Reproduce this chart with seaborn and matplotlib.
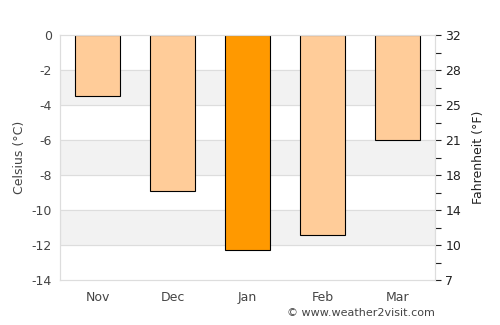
import matplotlib
matplotlib.use("Agg")
import matplotlib.pyplot as plt
import seaborn as sns

months = ["Nov", "Dec", "Jan", "Feb", "Mar"]
celsius = [-3.5, -8.9, -12.3, -11.4, -6.0]
bar_colors = ["#FFCC99", "#FFCC99", "#FF9900", "#FFCC99", "#FFCC99"]
c_ticks = [0, -2, -4, -6, -8, -10, -12, -14]

sns.set_style("white")
fig = plt.figure(figsize=(5, 3.25), dpi=100)
ax = fig.add_axes([0.12, 0.138, 0.75, 0.754])

# alternating background bands
for i, t in enumerate(c_ticks[:-1]):
    if i % 2 == 1:
        ax.axhspan(t - 2, t, color="#F2F2F2", zorder=0)
for t in c_ticks[1:-1]:
    ax.axhline(t, color="#DDDDDD", lw=0.8, zorder=0.5)

sns.barplot(x=months, y=celsius, hue=months, palette=bar_colors, legend=False,
            width=0.6, edgecolor="black", linewidth=0.8, saturation=1,
            ax=ax, zorder=2)

ax.set_ylim(-14, 0)
ax.set_xlim(-0.5, 4.5)
ax.set_yticks(c_ticks)
ax.set_yticklabels([str(t) for t in c_ticks])
ax.set_ylabel("Celsius (°C)", color="#444444", fontsize=9)
ax.set_xlabel("")
ax.tick_params(axis="both", colors="#444444", labelsize=9, length=0, pad=6)
ax.tick_params(axis="x", pad=8)
for s in ax.spines.values():
    s.set_color("#DDDDDD")
    s.set_linewidth(0.8)

ax2 = ax.twinx()
ax2.set_ylim(32 + (-14) * 9 / 5, 32)
f_ticks = [32 + t * 9 / 5 for t in c_ticks]
ax2.set_yticks(f_ticks)
ax2.set_yticklabels([str(round(f)) for f in f_ticks])
ax2.set_yticks([32 + (t - 1) * 9 / 5 for t in c_ticks[:-1]], minor=True)
ax2.tick_params(axis="y", which="both", colors="#222222", labelsize=9, length=4, width=0.8, direction="out")
ax2.set_ylabel("Fahrenheit (°F)", color="#222222", fontsize=9, labelpad=8)
for s in ax2.spines.values():
    s.set_color("#DDDDDD")
    s.set_linewidth(0.8)

fig.text(0.87, 0.037, "© www.weather2visit.com", ha="right", va="center",
         fontsize=8, color="#444444")

fig.savefig("out.png", dpi=100)
